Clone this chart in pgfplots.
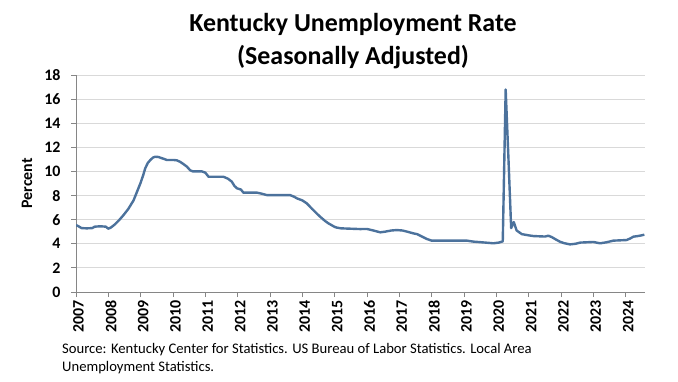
\documentclass[border=0pt]{standalone}
\usepackage{fontspec}
\setmainfont{Carlito}
\usepackage{pgfplots}
\pgfplotsset{compat=1.18}
\definecolor{lineblue}{RGB}{76,114,156}
\definecolor{gridgray}{RGB}{217,217,217}
\definecolor{axisgray}{RGB}{134,134,134}
\begin{document}
\begin{tikzpicture}[x=1bp,y=1bp]
\path[use as bounding box] (0,0) rectangle (678,381);
\begin{axis}[
  at={(76bp,89bp)}, anchor=south west,
  scale only axis, width=569bp, height=217bp,
  xmin=2007, xmax=2024.6, ymin=0, ymax=18,
  xtick={2007,2008,...,2024}, ytick={0,2,...,18},
  axis x line*=bottom, axis y line*=left,
  axis line style={axisgray, line width=0.8bp},
  tick style={axisgray, line width=0.8bp},
  tick align=outside, major tick length=5bp,
  ymajorgrids, major grid style={gridgray, line width=0.8bp},
  /pgf/number format/assume math mode=true,
  /pgf/number format/1000 sep={},
  ticklabel style={font=\bfseries\fontsize{16}{18}\selectfont},
  xticklabel style={rotate=90, anchor=east, yshift=-2.5bp},
  yticklabel style={xshift=-7bp},
  ylabel={Percent},
  ylabel style={font=\bfseries\fontsize{16}{18}\selectfont, at={(axis description cs:-0.0861,0.5)}, anchor=center},
]
\addplot[lineblue, line width=2.4bp, line join=round] coordinates {
(2007.00,5.55) (2007.08,5.45) (2007.17,5.30) (2007.33,5.28) (2007.50,5.30)
(2007.58,5.42) (2007.75,5.45) (2007.92,5.42) (2008.00,5.25) (2008.08,5.35)
(2008.20,5.60) (2008.33,5.95) (2008.47,6.38) (2008.62,6.90) (2008.78,7.60)
(2008.90,8.40) (2008.99,9.00) (2009.08,9.70) (2009.14,10.25) (2009.22,10.70)
(2009.30,10.95) (2009.38,11.15) (2009.45,11.22) (2009.55,11.20) (2009.63,11.12)
(2009.71,11.05) (2009.81,10.95) (2010.02,10.95) (2010.12,10.92) (2010.22,10.80)
(2010.33,10.60) (2010.43,10.40) (2010.53,10.10) (2010.62,10.00) (2010.90,10.00)
(2011.00,9.90) (2011.10,9.56) (2011.56,9.56) (2011.70,9.40) (2011.82,9.15)
(2011.90,8.80) (2011.98,8.60) (2012.10,8.50) (2012.18,8.24) (2012.60,8.24)
(2012.75,8.15) (2012.90,8.04) (2013.62,8.04) (2013.75,7.90) (2013.83,7.77)
(2014.00,7.60) (2014.14,7.35) (2014.30,6.90) (2014.45,6.50) (2014.55,6.25)
(2014.70,5.90) (2014.81,5.69) (2015.00,5.40) (2015.07,5.34) (2015.20,5.28)
(2015.79,5.22) (2016.00,5.23) (2016.20,5.10) (2016.41,4.95) (2016.55,5.00)
(2016.75,5.10) (2016.92,5.14) (2017.10,5.10) (2017.25,5.00) (2017.44,4.86)
(2017.55,4.80) (2017.70,4.60) (2017.85,4.40) (2018.00,4.26) (2019.09,4.26)
(2019.29,4.18) (2019.70,4.09) (2019.91,4.04) (2020.08,4.10) (2020.20,4.20)
(2020.29,16.80) (2020.38,10.80) (2020.46,5.30) (2020.54,5.80) (2020.63,5.10)
(2020.79,4.80) (2021.00,4.70) (2021.15,4.64) (2021.51,4.60) (2021.61,4.67)
(2021.72,4.55) (2021.82,4.39) (2021.97,4.17) (2022.10,4.05) (2022.28,3.95)
(2022.45,4.00) (2022.60,4.10) (2023.00,4.15) (2023.21,4.04) (2023.40,4.12)
(2023.62,4.26) (2024.03,4.31) (2024.15,4.45) (2024.24,4.59) (2024.40,4.65)
(2024.58,4.75)
};
\end{axis}
\node[font=\bfseries\fontsize{26}{33}\selectfont, align=center] at (353,340) {Kentucky Unemployment Rate\\(Seasonally Adjusted)};
\node[anchor=north west, inner sep=0pt, font=\fontsize{14.7}{18}\selectfont, align=left] at (62,38) {Source: Kentucky Center for Statistics. US Bureau of Labor Statistics. Local Area\\Unemployment Statistics.};
\end{tikzpicture}
\end{document}
